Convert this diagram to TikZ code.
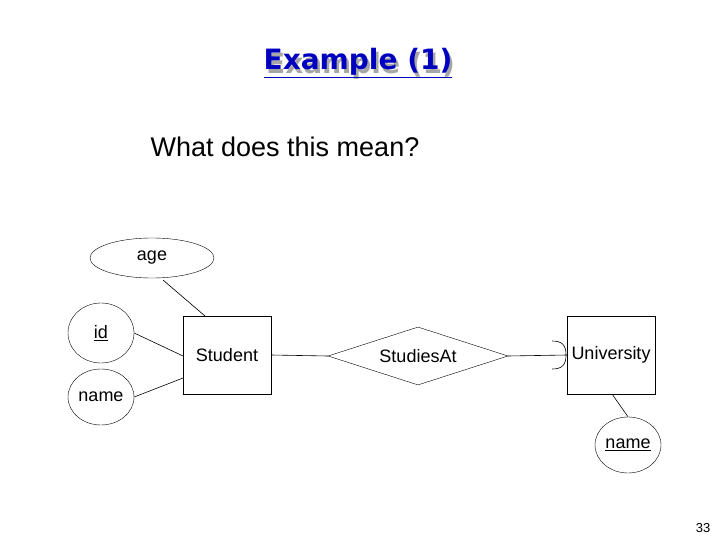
\documentclass[tikz,border=0pt]{standalone}
\usepackage{fontspec}
\setmainfont{Liberation Sans}
\newfontfamily\titlefont{DejaVu Sans}
\usetikzlibrary{shapes.geometric}
\begin{document}
\begin{tikzpicture}[x=1pt,y=-1pt,
  lbl/.style={font=\fontsize{18}{20}\selectfont},
  attr/.style={draw,ellipse,lbl,inner sep=0pt},
  ent/.style={draw,rectangle,lbl,minimum width=88pt,minimum height=78pt},
  rel/.style={draw,diamond,lbl,aspect=3.1,minimum width=180pt,minimum height=58pt,inner sep=0pt},
  ln/.style={draw,line width=0.6pt}]
\useasboundingbox (0,0) rectangle (720,540);
\node[font=\titlefont\bfseries\fontsize{28}{34}\selectfont,text=gray!70] at (360.5,65.5) {Example (1)};
\node (title) [font=\titlefont\bfseries\fontsize{28}{34}\selectfont,text=blue!75!black] at (358,63) {\underline{Example (1)}};
\node (q) [font=\fontsize{27}{30}\selectfont] at (285,147) {What does this mean?};
\node (age) [attr,minimum width=124pt,minimum height=40pt] at (152,258) {age};
\node (id) [attr,minimum width=66pt,minimum height=60pt] at (101,333) {\underline{id}};
\node (sname) [attr,minimum width=66pt,minimum height=56pt] at (101,397) {name};
\node (stu) [ent] at (227,355) {Student};
\node (rel) [rel] at (418,356) {StudiesAt};
\node (uni) [ent] at (611,355) {University};
\node (uname) [attr,minimum width=66pt,minimum height=56pt] at (628,445) {\underline{name}};
\node (pg) [font=\fontsize{13}{15}\selectfont] at (703,528) {33};
\draw[ln] (163,280) -- (205,316);
\draw[ln] (id.east) -- (183,356);
\draw[ln] (sname.east) -- (183,378);
\draw[ln] (stu.east) -- (rel.west);
\draw[ln] (rel.east) -- (uni.west);
\draw[ln] (552,341) .. controls (562,341) and (566,345) .. (566,355) .. controls (566,365) and (562,369) .. (552,369);
\draw[ln] (612,394) -- (uname.north);
\end{tikzpicture}
\end{document}
